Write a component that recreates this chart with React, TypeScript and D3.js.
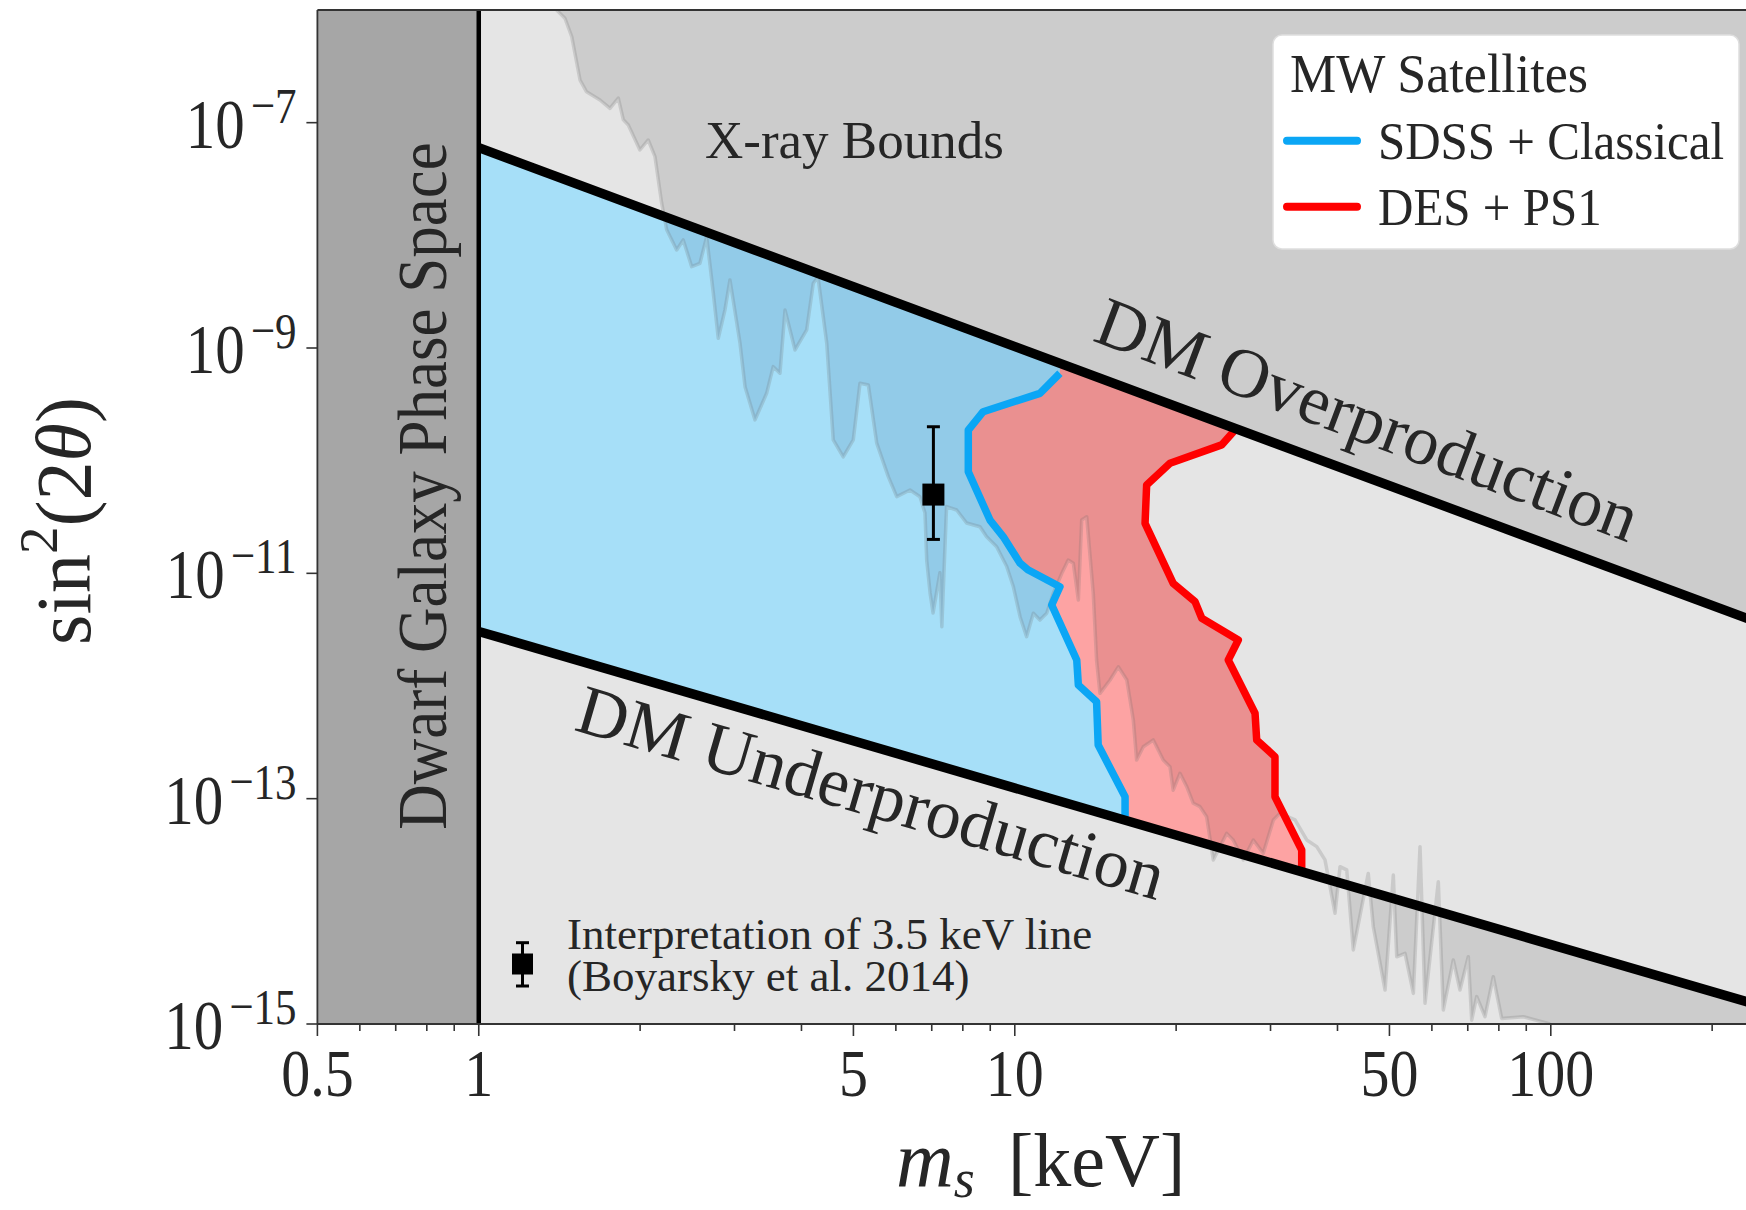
import * as d3 from "d3"

// ---- values ----
const xMajorTicks = [0.5, 1, 5, 10, 50, 100]
const xMajorLabels = ["0.5", "1", "5", "10", "50", "100"]
const xMinorTicks = [0.6, 0.7, 0.8, 0.9, 2, 3, 4, 6, 7, 8, 9, 20, 30, 40, 60, 70, 80, 90, 200]
const yTicks = [1e-7, 1e-9, 1e-11, 1e-13, 1e-15]
const yTickExponents = ["−7", "−9", "−11", "−13", "−15"]

// dwarf galaxy phase space limit (keV)
const phaseSpaceMass = [0.5, 1]

// DM production lines [m_s keV, sin^2(2 theta)]
const overproduction = [[1, 6.0e-8], [250, 3.5e-12]]
const underproduction = [[1, 3.05e-12], [250, 1.42e-15]]

// MW satellite limits
const sdssClassical = [
    [12.14, 5.97e-10], [11.14, 3.96e-10], [8.73, 2.72e-10], [8.19, 1.87e-10], [8.19, 7.98e-11],
    [8.99, 2.97e-11], [9.52, 2.11e-11], [10.23, 1.23e-11], [10.6, 1.07e-11], [12.14, 7.6e-12],
    [11.72, 5.24e-12], [13.05, 1.7e-12], [13.14, 1.02e-12], [14.21, 7.26e-13], [14.31, 2.99e-13],
    [16.06, 1.04e-13], [16.06, 6.9e-14],
]
const desPs1 = [
    [25.75, 1.87e-10], [24.32, 1.38e-10], [19.48, 9.48e-11], [17.62, 6.08e-11], [17.5, 2.78e-11],
    [19.75, 8.16e-12], [21.69, 5.6e-12], [22.33, 3.99e-12], [26.12, 2.56e-12], [25.02, 1.7e-12],
    [28.07, 5.73e-13], [28.27, 3.32e-13], [30.58, 2.36e-13], [30.58, 1.04e-13], [34.3, 3.5e-14],
    [34.3, 2.32e-14],
]

// X-ray bound (upper edge of the allowed region)
const xrayBound = [
    [1.397, 1.0e-6], [1.448, 8.45e-7], [1.491, 5.8e-7], [1.545, 2.39e-7], [1.589, 1.88e-7],
    [1.683, 1.59e-7], [1.757, 1.34e-7], [1.821, 1.65e-7], [1.861, 1.06e-7], [1.901, 9.54e-8],
    [1.998, 5.72e-8], [2.071, 7.02e-8], [2.132, 4.99e-8], [2.194, 1.93e-8], [2.242, 1.12e-8],
    [2.34, 7.41e-9], [2.407, 9.1e-9], [2.496, 5.27e-9], [2.586, 5.65e-9], [2.662, 9.73e-9],
    [2.739, 3.06e-9], [2.798, 1.22e-9], [2.879, 2.17e-9], [2.942, 4.02e-9], [3.072, 1.1e-9],
    [3.139, 4.54e-10], [3.276, 2.3e-10], [3.444, 3.96e-10], [3.543, 6.83e-10], [3.647, 5.97e-10],
    [3.727, 2.17e-9], [3.891, 9.6e-10], [4.091, 1.45e-9], [4.208, 3.75e-9], [4.294, 4.27e-9],
    [4.459, 1.1e-9], [4.585, 1.53e-10], [4.786, 1.08e-10], [4.997, 1.53e-10], [5.143, 4.86e-10],
    [5.331, 4.7e-10], [5.527, 1.43e-10], [5.808, 7.21e-11], [6.022, 4.79e-11], [6.375, 5.49e-11],
    [6.655, 4.79e-11], [6.8, 3.43e-11], [6.85, 1.31e-11], [6.95, 6.7e-12], [7.04, 4.45e-12],
    [7.25, 1.01e-11], [7.31, 3.36e-12], [7.46, 3.91e-11], [7.79, 3.65e-11], [8.13, 2.8e-11],
    [8.61, 2.59e-11], [8.86, 2.11e-11], [9.25, 1.72e-11], [9.66, 1.15e-11], [9.94, 7.6e-12],
    [10.23, 4.12e-12], [10.52, 2.74e-12], [10.83, 4.42e-12], [11.14, 3.85e-12], [11.47, 4.42e-12],
    [11.8, 6.65e-12], [12.24, 1.0e-11], [12.58, 1.31e-11], [12.86, 1.23e-11], [13.14, 5.8e-12],
    [13.33, 2.97e-11], [13.62, 3.18e-11], [14.01, 6.65e-12], [14.21, 1.7e-12], [14.42, 8.61e-13],
    [15.06, 1.13e-12], [15.6, 1.48e-12], [16.18, 1.13e-12], [16.64, 4.99e-13], [16.88, 2.2e-13],
    [17.37, 2.89e-13], [18.13, 3.32e-13], [18.92, 2.2e-13], [19.48, 1.92e-13], [19.75, 1.19e-13],
    [20.33, 1.68e-13], [20.93, 1.28e-13], [21.53, 9.1e-14], [22.16, 8.49e-14], [22.8, 6.92e-14],
    [23.46, 2.86e-14], [24.85, 4.92e-14], [25.56, 4.3e-14], [26.69, 2.86e-14], [27.86, 4.3e-14],
    [29.08, 3.27e-14], [30.37, 6.47e-14], [31.25, 7.41e-14], [33.33, 6.47e-14], [35.05, 4.3e-14],
    [36.59, 3.75e-14], [37.91, 2.86e-14], [39.58, 9.6e-15], [40.44, 2.49e-14], [41.62, 2.33e-14],
    [42.81, 4.54e-15], [45.65, 2.17e-14], [46.65, 7.3e-15], [49.07, 2.0e-15], [50.84, 2.1e-14],
    [51.59, 3.95e-15], [53.46, 4.24e-15], [55.41, 1.87e-15], [57.02, 3.75e-14], [58.26, 1.53e-15],
    [61.68, 1.83e-14], [63.02, 1.33e-15], [65.78, 3.7e-15], [67.7, 2.0e-15], [70.16, 3.95e-15],
    [71.19, 1.08e-15], [72.74, 1.75e-15], [75.38, 1.16e-15], [78.11, 2.63e-15], [80.98, 1.12e-15],
    [88.88, 1.16e-15], [99.7, 1.0e-15],
]

// 3.5 keV line interpretation (Boyarsky et al. 2014)
const lineMass = [7.05]
const lineMixing = [5.0e-11]
const lineMixingRange = [[2.0e-11, 2.0e-10]]

const legendLabels = ["SDSS + Classical", "DES + PS1"]
const legendColors = ["#0ba6f5", "#ff0000"]

// ---- styling ----
const FONT = "'Liberation Serif', 'Times New Roman', serif"
const INK = "#262626"
const BG = "#e5e5e5"
const XRAY = "#cccccc"
const BLUE_FILL = "#a6dff8"
const BLUE_XRAY = "#92cbe8"
const RED_FILL = "#fda3a3"
const RED_XRAY = "#ea9090"

const W = 1746, H = 1210
const left = 317.4, right = 1764.1, top = 10, bottom = 1024

const App = () => {
    const x = d3.scaleLog().domain([0.5, 250]).range([left, right])
    const y = d3.scaleLog().domain([1e-15, 1e-6]).range([bottom, top])
    const path = d3.line().x(d => x(d[0])).y(d => y(d[1]))

    const band = path([...overproduction, ...[...underproduction].reverse()]) + "Z"
    const bTop = sdssClassical[0], bBot = sdssClassical[sdssClassical.length - 1]
    const rTop = desPs1[0], rBot = desPs1[desPs1.length - 1]
    const blueArea = path([[0.5, 1e-3], [bTop[0], 1e-3], ...sdssClassical, [bBot[0], 1e-18], [0.5, 1e-18]]) + "Z"
    const redArea = path([[bTop[0], 1e-3], [rTop[0], 1e-3], ...desPs1, [rBot[0], 1e-18], [bBot[0], 1e-18],
        ...[...sdssClassical].reverse()]) + "Z"
    // band region right of the DES+PS1 curve stays unshaded
    const openArea = path([[rTop[0], 1e-3], ...desPs1, [rBot[0], 1e-18], [1000, 1e-18], [1000, 1e-3]]) + "Z"
    const xrayArea = path([...xrayBound, [1000, 1e-16], [1000, 1e-3], [xrayBound[0][0], 1e-3]]) + "Z"

    // text placed along a DM line, offset perpendicular to it
    const onLine = (seg, m, off) => {
        const [p, q] = seg
        const x1 = x(p[0]), y1 = y(p[1]), x2 = x(q[0]), y2 = y(q[1])
        const a = Math.atan2(y2 - y1, x2 - x1)
        const px = x(m), py = y1 + (px - x1) * (y2 - y1) / (x2 - x1)
        return { x: px - Math.sin(a) * off, y: py + Math.cos(a) * off, deg: a * 180 / Math.PI }
    }
    const overLbl = onLine(overproduction, 42, -31)
    const underLbl = onLine(underproduction, 5.7, 68)

    return (
        <svg width={W} height={H} style={{ position: "absolute", left: 0, top: 0, background: "#fff" }}
            fontFamily={FONT}>
            <defs>
                <clipPath id="plot"><rect x={left} y={top} width={W - left} height={bottom - top} /></clipPath>
                <clipPath id="band"><path d={band} /></clipPath>
                <clipPath id="blueClip"><path d={blueArea} /></clipPath>
                <clipPath id="redClip"><path d={redArea} /></clipPath>
            </defs>

            <g clipPath="url(#plot)">
                <rect x={left} y={top} width={W - left} height={bottom - top} fill={BG} />
                <path d={xrayArea} fill={XRAY} />
                <g clipPath="url(#band)">
                    <path d={openArea} fill={BG} />
                    <path d={blueArea} fill={BLUE_FILL} />
                    <path d={redArea} fill={RED_FILL} />
                    <g clipPath="url(#blueClip)"><path d={xrayArea} fill={BLUE_XRAY} /></g>
                    <g clipPath="url(#redClip)"><path d={xrayArea} fill={RED_XRAY} /></g>
                </g>
                <path d={path(xrayBound)} fill="none" stroke="rgba(110,110,110,0.22)" strokeWidth={3.5}
                    strokeLinejoin="round" />

                <rect x={x(phaseSpaceMass[0])} y={top} width={x(phaseSpaceMass[1]) - x(phaseSpaceMass[0])}
                    height={bottom - top} fill="#a6a6a6" />

                <path d={path(sdssClassical)} fill="none" stroke={legendColors[0]} strokeWidth={7.5}
                    strokeLinejoin="round" />
                <path d={path(desPs1)} fill="none" stroke={legendColors[1]} strokeWidth={7.5}
                    strokeLinejoin="round" />

                <path d={path(overproduction)} fill="none" stroke="#000" strokeWidth={9.5} />
                <path d={path(underproduction)} fill="none" stroke="#000" strokeWidth={9.5} />
                <line x1={x(phaseSpaceMass[1])} x2={x(phaseSpaceMass[1])} y1={top} y2={bottom}
                    stroke="#000" strokeWidth={4.5} />

                {lineMass.map((m, i) => (
                    <g key={i}>
                        <line x1={x(m)} x2={x(m)} y1={y(lineMixingRange[i][0])} y2={y(lineMixingRange[i][1])}
                            stroke="#000" strokeWidth={3} />
                        {lineMixingRange[i].map((v, j) => (
                            <line key={j} x1={x(m) - 6.5} x2={x(m) + 6.5} y1={y(v)} y2={y(v)} stroke="#000"
                                strokeWidth={3} />
                        ))}
                        <rect x={x(m) - 11} y={y(lineMixing[i]) - 11} width={22} height={22} fill="#000" />
                    </g>
                ))}
            </g>

            {/* region labels */}
            <text transform="translate(446,486) rotate(-90) scale(1,1.1)" textAnchor="middle" fontSize={63}
                fill={INK}>Dwarf Galaxy Phase Space</text>
            <text x={705} y={158} fontSize={53} fill={INK}>X-ray Bounds</text>
            <text transform={`translate(${overLbl.x},${overLbl.y}) rotate(${overLbl.deg + 0.3})`}
                textAnchor="middle" fontSize={70} fill={INK}>DM Overproduction</text>
            <text transform={`translate(${underLbl.x},${underLbl.y}) rotate(${underLbl.deg})`}
                textAnchor="middle" fontSize={70} fill={INK}>DM Underproduction</text>

            {/* 3.5 keV annotation */}
            <g>
                <line x1={522.5} x2={522.5} y1={942.7} y2={986} stroke="#000" strokeWidth={3} />
                <line x1={516} x2={529} y1={942.7} y2={942.7} stroke="#000" strokeWidth={3} />
                <line x1={516} x2={529} y1={986} y2={986} stroke="#000" strokeWidth={3} />
                <rect x={512} y={953.5} width={21} height={21} fill="#000" />
                <text x={567} y={948.5} fontSize={45} fill={INK}>Interpretation of 3.5 keV line</text>
                <text x={567} y={991} fontSize={45} fill={INK}>(Boyarsky et al. 2014)</text>
            </g>

            {/* legend */}
            <g>
                <rect x={1273} y={35} width={466} height={214} rx={9} fill="#fff" stroke="#dedede"
                    strokeWidth={1.5} />
                <text transform="translate(1290,92) scale(1,1.04)" fontSize={52} fill={INK}>MW Satellites</text>
                {legendLabels.map((l, i) => (
                    <g key={l}>
                        <line x1={1287} x2={1357} y1={140.7 + i * 66} y2={140.7 + i * 66}
                            stroke={legendColors[i]} strokeWidth={8} strokeLinecap="round" />
                        <text transform={`translate(1378,${159 + i * 66}) scale(1,1.08)`} fontSize={49}
                            fill={INK}>{l}</text>
                    </g>
                ))}
            </g>

            {/* axes */}
            <line x1={left} x2={W} y1={top} y2={top} stroke="#333" strokeWidth={1.8} />
            <line x1={left} x2={W} y1={bottom} y2={bottom} stroke="#333" strokeWidth={1.8} />
            <line x1={left} x2={left} y1={top} y2={bottom} stroke="#333" strokeWidth={1.8} />
            {xMinorTicks.map(t => (
                <line key={t} x1={x(t)} x2={x(t)} y1={bottom} y2={bottom + 7} stroke="#333" strokeWidth={1.6} />
            ))}
            {xMajorTicks.map((t, i) => (
                <g key={t}>
                    <line x1={x(t)} x2={x(t)} y1={bottom} y2={bottom + 12} stroke="#333" strokeWidth={1.6} />
                    <text transform={`translate(${x(t)},1096) scale(1,1.18)`} textAnchor="middle" fontSize={58}
                        fill={INK}>{xMajorLabels[i]}</text>
                </g>
            ))}
            {yTicks.map((t, i) => (
                <g key={t}>
                    <line x1={left - 11} x2={left} y1={y(t)} y2={y(t)} stroke="#333" strokeWidth={1.6} />
                    <text transform={`translate(296.5,${y(t) + 25}) scale(1,1.2)`} textAnchor="end" fontSize={59}
                        fill={INK}>10<tspan fontSize={43} dx={6} dy={-20.8}>{yTickExponents[i]}</tspan></text>
                </g>
            ))}

            {/* axis titles */}
            <text x={896} y={1186} fontSize={80} fill={INK} fontStyle="italic">m<tspan fontSize={54}
                dy={11}>s</tspan></text>
            <text x={1008} y={1186} fontSize={76} fill={INK}>[keV]</text>
            <text transform="translate(90,521) rotate(-90)" textAnchor="middle" fontSize={78} fill={INK}>
                sin<tspan fontSize={55} dy={-33}>2</tspan><tspan dy={33}>(2</tspan><tspan
                    fontStyle="italic">θ</tspan>)
            </text>
        </svg>
    )
}

export default App
